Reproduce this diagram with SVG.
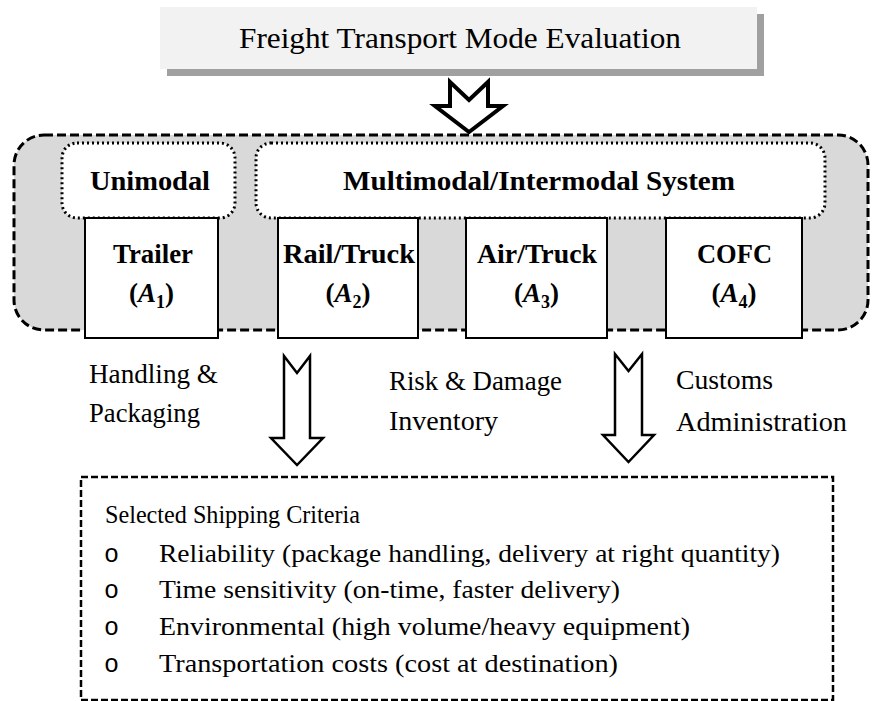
<svg xmlns="http://www.w3.org/2000/svg" width="873" height="701" viewBox="0 0 873 701">
  <style>
    .serif { font-family: "Liberation Serif", "Times New Roman", serif; fill: #000; }
    .title { font-size: 30px; }
    .bold { font-size: 27px; font-weight: bold; }
    .label { font-size: 27px; }
    .crit { font-size: 25px; }
    .bullet { font-family: "Liberation Mono", "Courier New", monospace; font-size: 25px; fill: #000; }
    .dotted { fill: #fff; stroke: #000; stroke-width: 3; stroke-dasharray: 2 3; }
    .alt { fill: #fff; stroke: #000; stroke-width: 2; }
    .hollow { fill: #fff; stroke: #000; stroke-linejoin: miter; }
  </style>
  <rect x="0" y="0" width="873" height="701" fill="#fff"/>

  <g id="title">
    <rect x="167" y="14" width="597" height="62" fill="#a0a0a0"/>
    <rect x="160" y="7" width="597" height="62" fill="#f2f2f2"/>
    <text class="serif title" x="239" y="48" textLength="442" lengthAdjust="spacingAndGlyphs">Freight Transport Mode Evaluation</text>
  </g>

  <g id="system-container">
    <rect x="14" y="135" width="854" height="195" rx="30" ry="30" fill="#d9d9d9" stroke="#000" stroke-width="3" stroke-dasharray="9 4"/>
  </g>

  <g id="unimodal">
    <rect class="dotted" x="62" y="143" width="173" height="75" rx="15" ry="15"/>
    <text class="serif bold" x="90" y="190" textLength="120" lengthAdjust="spacingAndGlyphs">Unimodal</text>
  </g>

  <g id="multimodal">
    <rect class="dotted" x="256" y="143" width="569" height="75" rx="15" ry="15"/>
    <text class="serif bold" x="343" y="190" textLength="392" lengthAdjust="spacingAndGlyphs">Multimodal/Intermodal System</text>
  </g>

  <g id="trailer">
    <rect class="alt" x="85" y="218" width="133" height="120"/>
    <text class="serif bold" x="113" y="263" textLength="80" lengthAdjust="spacingAndGlyphs">Trailer</text>
    <text class="serif bold" x="151.5" y="302" text-anchor="middle">(<tspan font-style="italic">A</tspan><tspan font-size="18" dy="6">1</tspan><tspan dy="-6">)</tspan></text>
  </g>

  <g id="rail-truck">
    <rect class="alt" x="278" y="218" width="140" height="120"/>
    <text class="serif bold" x="283" y="263" textLength="132" lengthAdjust="spacingAndGlyphs">Rail/Truck</text>
    <text class="serif bold" x="348" y="302" text-anchor="middle">(<tspan font-style="italic">A</tspan><tspan font-size="18" dy="6">2</tspan><tspan dy="-6">)</tspan></text>
  </g>

  <g id="air-truck">
    <rect class="alt" x="466" y="218" width="141" height="120"/>
    <text class="serif bold" x="477" y="263" textLength="120" lengthAdjust="spacingAndGlyphs">Air/Truck</text>
    <text class="serif bold" x="536.5" y="302" text-anchor="middle">(<tspan font-style="italic">A</tspan><tspan font-size="18" dy="6">3</tspan><tspan dy="-6">)</tspan></text>
  </g>

  <g id="cofc">
    <rect class="alt" x="666" y="218" width="136" height="120"/>
    <text class="serif bold" x="697" y="263" textLength="75" lengthAdjust="spacingAndGlyphs">COFC</text>
    <text class="serif bold" x="734" y="302" text-anchor="middle">(<tspan font-style="italic">A</tspan><tspan font-size="18" dy="6">4</tspan><tspan dy="-6">)</tspan></text>
  </g>

  <g id="connectors">
    <path class="hollow" stroke-width="4" d="M450,82 L469,100 L488,82 L488,106 L503,106 L469,132 L435,106 L450,106 Z"/>
    <path class="hollow" stroke-width="2.5" d="M284,356 L297,373 L310,356 L310,438 L323,438 L297,465 L271,438 L284,438 Z"/>
    <path class="hollow" stroke-width="2.5" d="M615,354 L628.5,371 L642,354 L642,435 L654,435 L628.5,462 L603,435 L615,435 Z"/>
  </g>

  <g id="label-handling">
    <text class="serif label" x="89" y="383" textLength="129" lengthAdjust="spacingAndGlyphs">Handling &amp;</text>
    <text class="serif label" x="89" y="422" textLength="111" lengthAdjust="spacingAndGlyphs">Packaging</text>
  </g>

  <g id="label-risk">
    <text class="serif label" x="389" y="390" textLength="173" lengthAdjust="spacingAndGlyphs">Risk &amp; Damage</text>
    <text class="serif label" x="389" y="430" textLength="109" lengthAdjust="spacingAndGlyphs">Inventory</text>
  </g>

  <g id="label-customs">
    <text class="serif label" x="676" y="389" textLength="97" lengthAdjust="spacingAndGlyphs">Customs</text>
    <text class="serif label" x="676" y="431" textLength="171" lengthAdjust="spacingAndGlyphs">Administration</text>
  </g>

  <g id="criteria">
    <rect x="81" y="477" width="752" height="223" fill="#fff" stroke="#000" stroke-width="2.5" stroke-dasharray="7 3"/>
    <text class="serif crit" x="105" y="523" textLength="255" lengthAdjust="spacingAndGlyphs">Selected Shipping Criteria</text>
    <text class="bullet" x="104" y="562">o</text>
    <text class="serif crit" x="159" y="562" textLength="621" lengthAdjust="spacingAndGlyphs">Reliability (package handling, delivery at right quantity)</text>
    <text class="bullet" x="104" y="598">o</text>
    <text class="serif crit" x="159" y="598" textLength="461" lengthAdjust="spacingAndGlyphs">Time sensitivity (on-time, faster delivery)</text>
    <text class="bullet" x="104" y="635">o</text>
    <text class="serif crit" x="159" y="635" textLength="531" lengthAdjust="spacingAndGlyphs">Environmental (high volume/heavy equipment)</text>
    <text class="bullet" x="104" y="672">o</text>
    <text class="serif crit" x="159" y="672" textLength="459" lengthAdjust="spacingAndGlyphs">Transportation costs (cost at destination)</text>
  </g>
</svg>
